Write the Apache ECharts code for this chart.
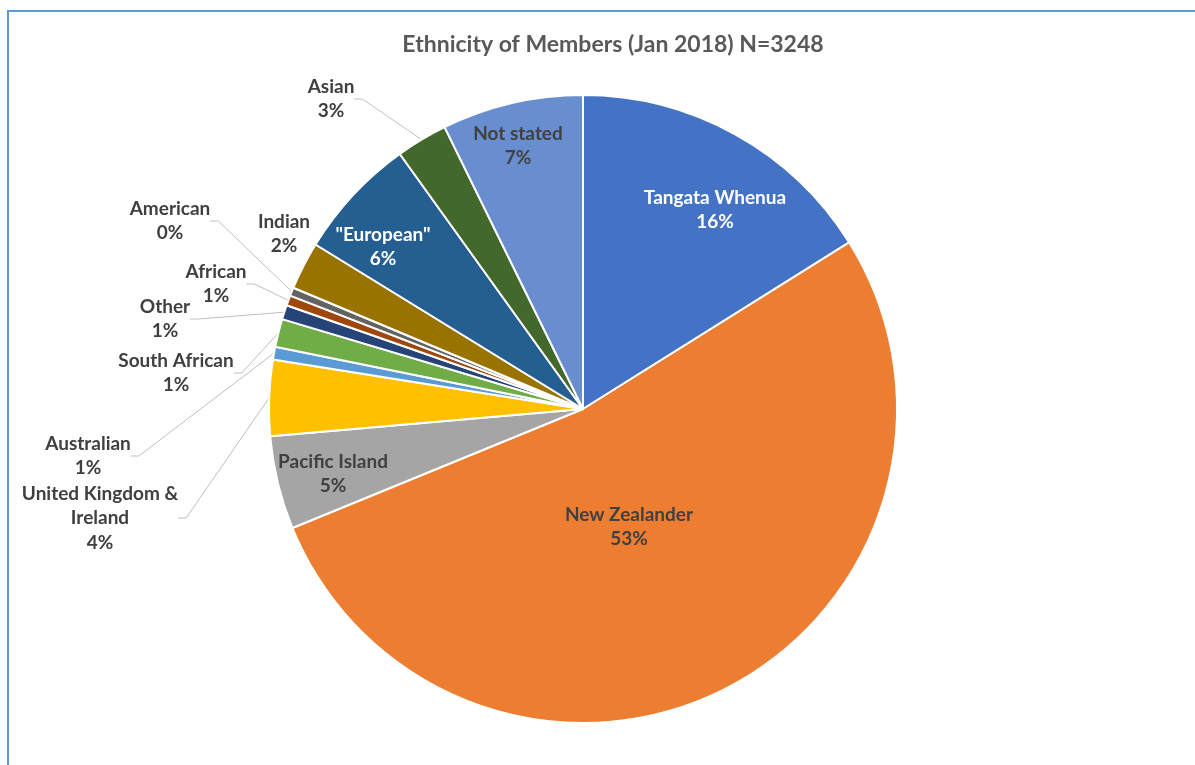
<!DOCTYPE html>
<html>
<head>
<meta charset="utf-8">
<script src="https://cdn.jsdelivr.net/npm/echarts@6/dist/echarts.min.js"></script>
<style>
  html, body { margin: 0; padding: 0; background: #fff; }
  #frame { position: absolute; left: 7px; top: 10px; right: 0; bottom: 0;
           border-left: 2px solid #5b9bd5; border-top: 2px solid #5b9bd5; }
  #main { position: absolute; left: 0; top: 0; width: 1195px; height: 765px; }
</style>
</head>
<body>
<div id="frame"></div>
<div id="main"></div>
<script>
// ethnicity of members, Jan 2018 (N=3248), clockwise from 12 o'clock
var categories = ['Tangata Whenua', 'New Zealander', 'Pacific Island', 'United Kingdom &\nIreland',
  'Australian', 'South African', 'Other', 'African', 'American', 'Indian', '"European"', 'Asian', 'Not stated'];
var counts = [523, 1712, 156, 127, 21, 47, 24, 17, 14, 80, 205, 86, 236];

var palette = ['#4472c4', '#ed7d31', '#a5a5a5', '#ffc000', '#5b9bd5', '#70ad47',
  '#264478', '#9e480e', '#636363', '#997300', '#255e91', '#43682b', '#698ed0'];

// where the labels sit (centre of text block), index -> [x, y]
var labelPos = {
  0: [715, 210], 1: [629, 527], 2: [333, 474], 3: [100, 518], 4: [88, 456],
  5: [176, 373], 6: [165, 319], 7: [216, 284], 8: [170, 221], 9: [284, 234],
  10: [383, 247], 11: [331, 99], 12: [518, 146]
};
var insideIdx = [0, 1, 2, 10, 12];
var whiteIdx = [0, 10];

var chart = echarts.init(document.getElementById('main'));

var seriesData = categories.map(function (name, i) {
  var inside = insideIdx.indexOf(i) >= 0;
  return {
    name: name,
    value: counts[i],
    label: {
      position: inside ? 'inside' : 'outside',
      color: whiteIdx.indexOf(i) >= 0 ? '#ffffff' : '#404040'
    },
    labelLine: { show: !inside && i !== 9 }
  };
});

chart.setOption({
  color: palette,
  title: {
    text: 'Ethnicity of Members (Jan 2018) N=3248',
    left: 608, top: 28, textAlign: 'center',
    textStyle: { fontFamily: 'Lato', fontSize: 23, fontWeight: 'bold', color: '#595959' }
  },
  series: [{
    type: 'pie',
    center: [583, 409],
    radius: 314,
    startAngle: 90,
    clockwise: true,
    avoidLabelOverlap: false,
    itemStyle: { borderColor: '#ffffff', borderWidth: 2 },
    label: {
      show: true,
      fontFamily: 'Lato',
      fontSize: 19,
      fontWeight: 'bold',
      lineHeight: 24.5,
      align: 'center',
      formatter: function (p) { return p.name + '\n' + Math.round(p.percent) + '%'; }
    },
    labelLine: {
      show: true,
      length: 10,
      length2: 8,
      lineStyle: { color: '#bfbfbf', width: 1 }
    },
    labelLayout: function (p) {
      var pos = labelPos[p.dataIndex];
      return { x: pos[0], y: pos[1], align: 'center', verticalAlign: 'middle' };
    },
    data: seriesData
  }]
});
</script>
</body>
</html>
